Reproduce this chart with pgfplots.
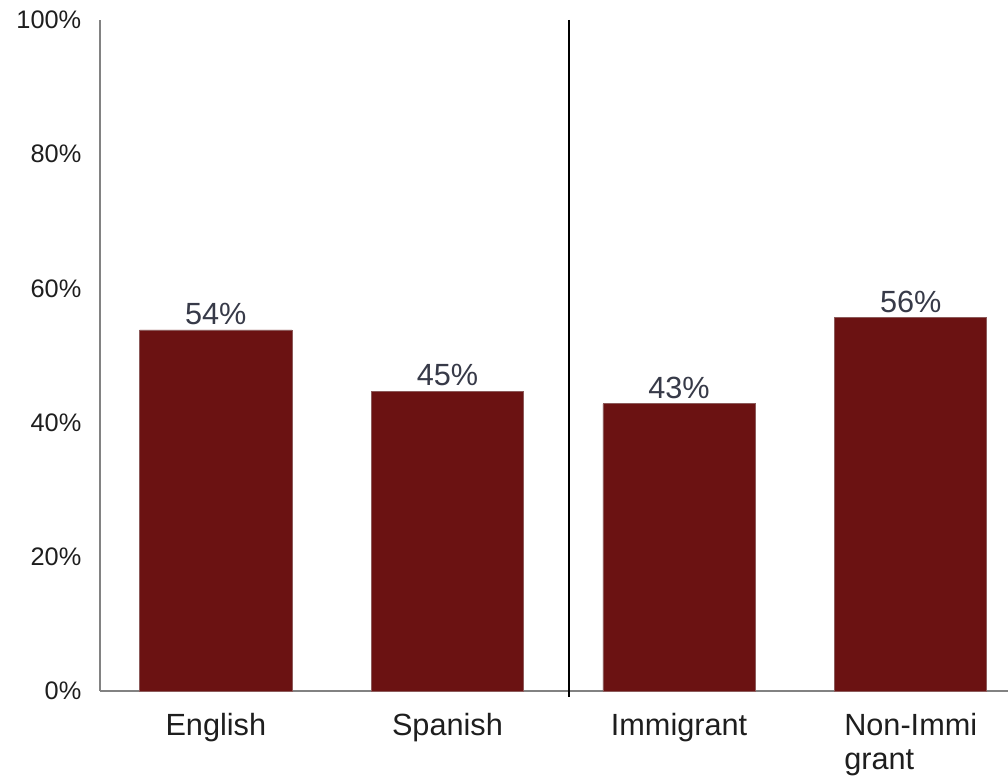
\documentclass[border=0pt]{standalone}
\usepackage{pgfplots}
\pgfplotsset{compat=1.18}
\usepackage{fontspec}
\setmainfont{Liberation Sans}
\definecolor{barcol}{RGB}{107,18,18}
\definecolor{baredge}{RGB}{140,90,90}
\definecolor{lblcol}{RGB}{55,58,72}
\definecolor{tickcol}{RGB}{30,30,30}
\definecolor{axcol}{RGB}{130,130,130}
\begin{document}
\begin{tikzpicture}
\begin{axis}[
  scale only axis,
  width=681pt, height=503.25pt,
  xmin=-0.5, xmax=3.42,
  ymin=0, ymax=100,
  axis x line=bottom, axis y line=left,
  axis line style={-, draw=axcol, line width=1.1pt},
  xtick={0,1,2,3},
  xticklabels={English,Spanish,Immigrant,{Non-Immi\\grant}},
  xticklabel style={font=\fontsize{23}{25}\selectfont, text=tickcol, align=left, yshift=-13.5pt},
  ytick={0,20,40,60,80,100},
  yticklabels={0\%,20\%,40\%,60\%,80\%,100\%},
  yticklabel style={font=\fontsize{19}{21}\selectfont, text=tickcol, xshift=-10.5pt},
  major tick length=0pt,
  clip=false,
  ybar, bar width=0.657,
  nodes near coords={\pgfmathprintnumber[fixed,precision=0,assume math mode=true]{\pgfplotspointmeta}\%},
  every node near coord/.append style={font=\fontsize{23}{25}\selectfont, text=lblcol},
]
\addplot[fill=barcol, draw=baredge, line width=0.5pt] coordinates {(0,53.8) (1,44.7) (2,42.8) (3,55.7)};
\draw[black, line width=1.3pt] (axis cs:1.525,100) -- (axis cs:1.525,-0.9);
\end{axis}
\pgfresetboundingbox
\path (-75pt,-64.5pt) rectangle (681pt,518.25pt);
\end{tikzpicture}
\end{document}
